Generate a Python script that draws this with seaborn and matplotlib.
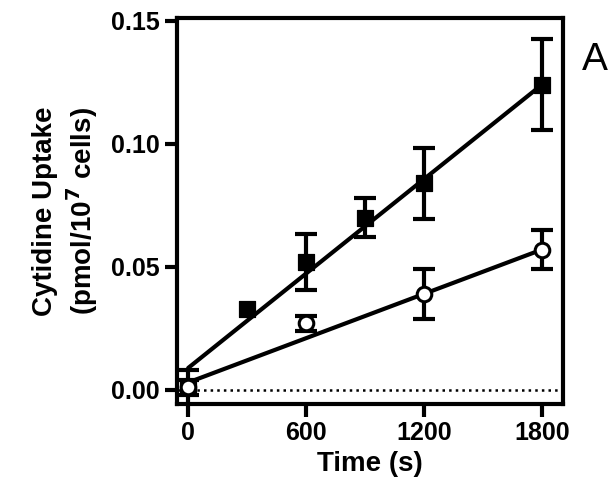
import matplotlib
matplotlib.use("Agg")
import matplotlib.pyplot as plt
import seaborn as sns
import numpy as np
import pandas as pd

sns.set_theme(style="ticks")
plt.rcParams['font.family'] = ['Liberation Sans', 'DejaVu Sans']
plt.rcParams['text.color'] = 'black'
plt.rcParams['axes.labelcolor'] = 'black'
plt.rcParams['xtick.color'] = 'black'
plt.rcParams['ytick.color'] = 'black'
plt.rcParams['axes.edgecolor'] = 'black'

t_sq = [0, 300, 600, 900, 1200, 1800]
y_sq = [0.001, 0.033, 0.052, 0.070, 0.084, 0.124]
e_sq = [0.007, np.nan, 0.0115, 0.008, 0.0145, 0.0185]
t_ci = [0, 600, 1200, 1800]
y_ci = [0.001, 0.027, 0.039, 0.057]
e_ci = [0.003, 0.003, 0.010, 0.008]
fit_sq = [0.0089, 0.124]
fit_ci = [0.003, 0.057]
fit_t = [0, 1800]

fig = plt.figure(figsize=(6.11, 4.98), dpi=100)
ax = fig.add_axes([0.29, 0.189, 0.631, 0.775])
lw = 3
ax.axhline(0, color='black', ls=':', lw=1.8, zorder=1)
sns.lineplot(x=fit_t, y=fit_sq, color='black', lw=lw, ax=ax)
sns.lineplot(x=fit_t, y=fit_ci, color='black', lw=lw, ax=ax)
ax.errorbar(t_sq, y_sq, yerr=e_sq, fmt='none', ecolor='black', elinewidth=lw, capsize=8, capthick=lw)
ax.errorbar(t_ci, y_ci, yerr=e_ci, fmt='none', ecolor='black', elinewidth=lw, capsize=8, capthick=lw)
sns.scatterplot(x=t_sq, y=y_sq, marker='s', s=120, color='black', edgecolor='black', ax=ax, zorder=5)
sns.scatterplot(x=t_ci, y=y_ci, marker='o', s=110, color='white', edgecolor='black', linewidth=2.2, ax=ax, zorder=6)

ax.set_xlim(-56, 1907)
ax.set_ylim(-0.0057, 0.1512)
ax.set_xticks([0, 600, 1200, 1800])
ax.set_yticks([0.0, 0.05, 0.10, 0.15])
ax.set_yticklabels(['0.00', '0.05', '0.10', '0.15'])
for s in ax.spines.values():
    s.set_linewidth(3)
ax.tick_params(width=3, length=9, labelsize=18)
for l in ax.get_xticklabels() + ax.get_yticklabels():
    l.set_fontweight('bold')
ax.set_xlabel('Time (s)', fontsize=20, fontweight='bold')
ax.set_ylabel('Cytidine Uptake\n(pmol/10$^\\mathbf{7}$ cells)', fontsize=20, fontweight='bold', labelpad=8)
fig.text(0.953, 0.88, 'A', fontsize=28, ha='left', va='center')
fig.savefig('out.png', dpi=100)
